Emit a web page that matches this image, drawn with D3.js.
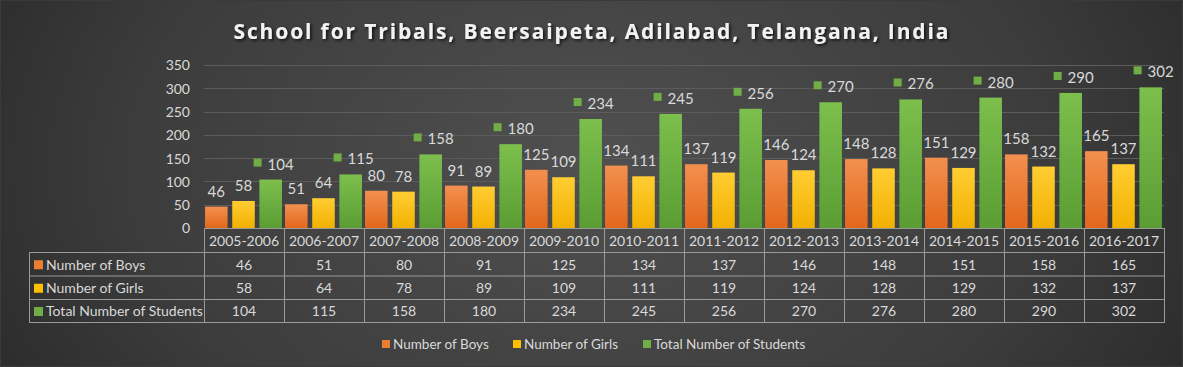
<!DOCTYPE html>
<html>
<head>
<meta charset="utf-8">
<script src="https://cdn.jsdelivr.net/npm/d3@7"></script>
<style>
html,body{margin:0;padding:0;background:#2a2a2a;}
svg{display:block;}
</style>
</head>
<body>
<svg id="chart" width="1183" height="367"></svg>
<script>
const categories = ["2005-2006","2006-2007","2007-2008","2008-2009","2009-2010","2010-2011","2011-2012","2012-2013","2013-2014","2014-2015","2015-2016","2016-2017"];
const boys  = [46,51,80,91,125,134,137,146,148,151,158,165];
const girls = [58,64,78,89,109,111,119,124,128,129,132,137];
const total = [104,115,158,180,234,245,256,270,276,280,290,302];
const seriesNames = ["Number of Boys","Number of Girls","Total Number of Students"];
const yTicks = [0,50,100,150,200,250,300,350];
const title = "School for Tribals, Beersaipeta, Adilabad, Telangana, India";

const W = 1183, H = 367;
const FONT = "Lato, 'Open Sans', sans-serif";
const textCol = "#d9d9d9";
const colors = ["#ED7D31","#FFC000","#70AD47"];
const grads = [["#F3904F","#E2671C"],["#FFCD33","#F2B100"],["#7DBF4D","#5A9D33"]];
const series = [boys, girls, total];

const svg = d3.select("#chart");
const defs = svg.append("defs");
const bg = defs.append("radialGradient").attr("id","bg")
  .attr("cx","50%").attr("cy","45%").attr("r","65%")
  .attr("gradientTransform","translate(0.5,0.45) scale(1,2.2) translate(-0.5,-0.45)");
bg.append("stop").attr("offset","0%").attr("stop-color","#505050");
bg.append("stop").attr("offset","60%").attr("stop-color","#3c3c3c");
bg.append("stop").attr("offset","100%").attr("stop-color","#242424");
grads.forEach((g,i)=>{
  const lg = defs.append("linearGradient").attr("id","g"+i).attr("x1",0).attr("y1",0).attr("x2",0).attr("y2",1);
  lg.append("stop").attr("offset","0%").attr("stop-color",g[0]);
  lg.append("stop").attr("offset","100%").attr("stop-color",g[1]);
});
const sh = defs.append("filter").attr("id","shadow").attr("x","-5%").attr("y","-30%").attr("width","110%").attr("height","160%");
sh.append("feDropShadow").attr("dx",1.5).attr("dy",1.5).attr("stdDeviation",1.5).attr("flood-color","#000").attr("flood-opacity",0.8);

svg.append("rect").attr("width",W).attr("height",H).attr("fill","url(#bg)");
svg.append("rect").attr("x",0.5).attr("y",0.5).attr("width",W-1).attr("height",H-1).attr("fill","none").attr("stroke","#3a3a3a");

// Title
const t = svg.append("text").attr("x",591).attr("y",39).attr("text-anchor","middle")
  .attr("font-family","'Open Sans', sans-serif").attr("font-weight","bold").attr("font-size",21)
  .attr("fill","#f2f2f2").attr("filter","url(#shadow)").text(title);
const tw = t.node().getComputedTextLength();
const ls = (715 - tw) / (title.length - 1);
t.attr("letter-spacing", ls).attr("x", 591 + ls/2);

// Scales
const x0 = d3.scaleBand().domain(categories).range([204,1164]);
const x1 = d3.scaleBand().domain([0,1,2]).range([0.5, x0.bandwidth()-1.5]).paddingInner(0.17).paddingOuter(0.02);
const y = d3.scaleLinear().domain([0,350]).range([228,65]);

// Gridlines
svg.append("g").selectAll("line").data(yTicks.filter(d=>d>0)).join("line")
  .attr("x1",204).attr("x2",1164).attr("y1",d=>Math.round(y(d))+0.5).attr("y2",d=>Math.round(y(d))+0.5)
  .attr("stroke","#5c5c5c").attr("stroke-width",1);

// Y axis
const yAxis = d3.axisLeft(y).tickValues(yTicks).tickSize(0).tickPadding(0);
const ya = svg.append("g").attr("transform","translate(190,0)").call(yAxis);
ya.select(".domain").remove();
ya.selectAll("text").attr("font-family",FONT).attr("font-size",14).attr("fill",textCol).attr("dy","0.35em");

// Bars
const groups = svg.append("g").selectAll("g").data(categories).join("g")
  .attr("transform",d=>`translate(${x0(d)},0)`);
series.forEach((vals,si)=>{
  groups.append("rect")
    .attr("x",x1(si)).attr("width",x1.bandwidth())
    .attr("y",(d,i)=>y(vals[i])).attr("height",(d,i)=>y(0)-y(vals[i]))
    .attr("fill",`url(#g${si})`);
});

// Labels
series.forEach((vals,si)=>{
  groups.each(function(d,i){
    const g = d3.select(this);
    const cx = x1(si) + x1.bandwidth()/2;
    const ly = y(vals[i]) - 10;
    if(si<2){
      g.append("text").attr("x",cx).attr("y",ly).attr("text-anchor","middle")
        .attr("font-family",FONT).attr("font-size",15).attr("fill",textCol).text(vals[i]);
    } else {
      const tx = g.append("text").attr("y",ly)
        .attr("font-family",FONT).attr("font-size",15).attr("fill",textCol).text(vals[i]);
      const w = tx.node().getComputedTextLength();
      const tot = 8 + 6 + w;
      const sx = cx - tot/2 + 3;
      g.append("rect").attr("x",sx).attr("y",ly-11).attr("width",8).attr("height",8).attr("fill",colors[2]);
      tx.attr("x", sx + 14);
    }
  });
});

// Data table
const rowY = [228,252,275.5,299,322];
const tbl = svg.append("g");
const stroke = "#9a9a9a";
// horizontal lines
tbl.append("line").attr("x1",204).attr("x2",1164).attr("y1",rowY[0]+0.5).attr("y2",rowY[0]+0.5).attr("stroke",stroke);
[1,2,3,4].forEach(r=>{
  tbl.append("line").attr("x1",29).attr("x2",1164).attr("y1",rowY[r]+0.5).attr("y2",rowY[r]+0.5).attr("stroke",stroke);
});
// vertical lines
tbl.append("line").attr("x1",29.5).attr("x2",29.5).attr("y1",rowY[1]).attr("y2",rowY[4]+1).attr("stroke",stroke);
const vx = categories.map(c=>x0(c)).concat([1164]);
vx.forEach(v=>{
  tbl.append("line").attr("x1",Math.round(v)+0.5).attr("x2",Math.round(v)+0.5).attr("y1",rowY[0]).attr("y2",rowY[4]+1).attr("stroke",stroke);
});
// header
tbl.append("g").selectAll("text").data(categories).join("text")
  .attr("x",d=>x0(d)+x0.bandwidth()/2).attr("y",(rowY[0]+rowY[1])/2+1).attr("dy","0.35em")
  .attr("text-anchor","middle").attr("font-family",FONT).attr("font-size",14).attr("fill",textCol).text(d=>d);
// rows
series.forEach((vals,si)=>{
  const cy = (rowY[si+1]+rowY[si+2])/2 + 1;
  tbl.append("rect").attr("x",34).attr("y",cy-4.5).attr("width",9).attr("height",9).attr("fill",colors[si]);
  tbl.append("text").attr("x",46).attr("y",cy).attr("dy","0.35em")
    .attr("font-family",FONT).attr("font-size",14).attr("fill",textCol).text(seriesNames[si]);
  tbl.append("g").selectAll("text").data(vals).join("text")
    .attr("x",(d,i)=>x0(categories[i])+x0.bandwidth()/2).attr("y",cy).attr("dy","0.35em")
    .attr("text-anchor","middle").attr("font-family",FONT).attr("font-size",14).attr("fill",textCol).text(d=>d);
});

// Legend
const legX = [382,513,643];
const leg = svg.append("g");
seriesNames.forEach((n,i)=>{
  leg.append("rect").attr("x",legX[i]).attr("y",340).attr("width",8).attr("height",8).attr("fill",colors[i]);
  leg.append("text").attr("x",legX[i]+11).attr("y",344).attr("dy","0.35em")
    .attr("font-family",FONT).attr("font-size",13.5).attr("fill",textCol).text(n);
});
</script>
</body>
</html>
